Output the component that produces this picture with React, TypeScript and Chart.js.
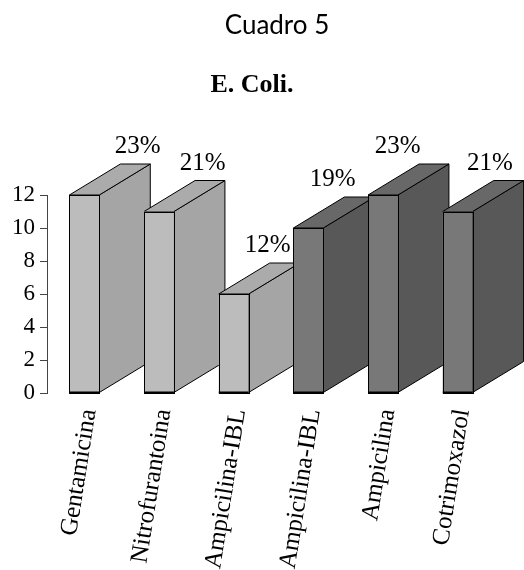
import { useEffect, useRef } from "react";
import { Chart, registerables } from "chart.js";

Chart.register(...registerables);

// Data
const categories = [
  "Gentamicina",
  "Nitrofurantoina",
  "Ampicilina-IBL",
  "Ampicilina-IBL",
  "Ampicilina",
  "Cotrimoxazol",
];
const counts = [12, 11, 6, 10, 12, 11];
const percentLabels = ["23%", "21%", "12%", "19%", "23%", "21%"];
// which shade group each column belongs to (index into PALETTE)
const shadeGroup = [0, 0, 0, 1, 1, 1];
const Y_MIN = 0;
const Y_MAX = 12;
const Y_STEP = 2;

const TITLE = "Cuadro 5";
const SUBTITLE = "E. Coli.";

// Styling
const SERIF = "'Liberation Serif', 'Times New Roman', serif";
const PALETTE = [
  { front: "#bcbcbc", top: "#ababab", side: "#a5a5a5" },
  { front: "#787878", top: "#686868", side: "#585858" },
];
const DEPTH_X = 51;
const DEPTH_Y = 31;
const LABEL_FONT = 25;
const W = 524;
const H = 570;

const barBox = (bar: any) => {
  const { x, y, base, width } = bar.getProps(["x", "y", "base", "width"], true);
  return { x, y, base, l: x - width / 2, r: x + width / 2 };
};

// Draws the receding top and side faces behind each bar's front face,
// then outlines the fronts and writes the percentage above each column.
const depthPlugin = {
  id: "depthFaces",
  beforeDatasetsDraw(chart: any) {
    const ctx = chart.ctx;
    const meta = chart.getDatasetMeta(0);
    ctx.save();
    ctx.lineWidth = 1;
    ctx.strokeStyle = "#000";
    meta.data.forEach((bar: any, i: number) => {
      const { y, base, l, r } = barBox(bar);
      const pal = PALETTE[shadeGroup[i]];
      // side face
      ctx.beginPath();
      ctx.moveTo(r, base);
      ctx.lineTo(r + DEPTH_X, base - DEPTH_Y);
      ctx.lineTo(r + DEPTH_X, y - DEPTH_Y);
      ctx.lineTo(r, y);
      ctx.closePath();
      ctx.fillStyle = pal.side;
      ctx.fill();
      ctx.stroke();
      // top face
      ctx.beginPath();
      ctx.moveTo(l, y);
      ctx.lineTo(l + DEPTH_X, y - DEPTH_Y);
      ctx.lineTo(r + DEPTH_X, y - DEPTH_Y);
      ctx.lineTo(r, y);
      ctx.closePath();
      ctx.fillStyle = pal.top;
      ctx.fill();
      ctx.stroke();
    });
    ctx.restore();
  },
  afterDatasetsDraw(chart: any) {
    const ctx = chart.ctx;
    const meta = chart.getDatasetMeta(0);
    const right = chart.chartArea.right;
    ctx.save();
    // front outlines
    ctx.lineWidth = 1;
    ctx.strokeStyle = "#000";
    meta.data.forEach((bar: any) => {
      const { y, base, l, r } = barBox(bar);
      ctx.strokeRect(Math.round(l) + 0.5, Math.round(y) + 0.5, Math.round(r - l), Math.round(base - y));
      ctx.lineWidth = 2;
      ctx.beginPath();
      ctx.moveTo(l, base);
      ctx.lineTo(r, base);
      ctx.stroke();
      ctx.lineWidth = 1;
    });

    // percentage labels
    ctx.fillStyle = "#000";
    ctx.font = `${LABEL_FONT}px ${SERIF}`;
    ctx.textAlign = "center";
    ctx.textBaseline = "alphabetic";
    meta.data.forEach((bar: any, i: number) => {
      const { x, y } = barBox(bar);
      const baseline = y - DEPTH_Y - 11;
      const half = ctx.measureText(percentLabels[i]).width / 2;
      // labels float above the back edge, drawn toward the far end of the row
      let lx = right + (x - right) * 0.87;
      if (i > 0) {
        // keep clear of the previous column's top face
        const prev = barBox(meta.data[i - 1]);
        const prevBackRight = prev.r + DEPTH_X;
        if (baseline > prev.y - DEPTH_Y && lx - half < prevBackRight) {
          lx = prevBackRight + 18 + half;
        }
      }
      ctx.fillText(percentLabels[i], lx, baseline);
    });
    ctx.restore();
  },
};

// Heading lines above the plot.
const headingPlugin = {
  id: "headings",
  afterDraw(chart: any) {
    const ctx = chart.ctx;
    ctx.save();
    ctx.fillStyle = "#000";
    ctx.textAlign = "center";
    ctx.textBaseline = "alphabetic";
    ctx.font = "26px Lato, 'Open Sans', sans-serif";
    ctx.fillText(TITLE, 277, 34);
    ctx.font = `bold 26px ${SERIF}`;
    ctx.fillText(SUBTITLE, 252, 92);
    ctx.restore();
  },
};

export default function App() {
  const canvasRef = useRef<HTMLCanvasElement | null>(null);

  useEffect(() => {
    const canvas = canvasRef.current;
    if (!canvas) return;
    const chart = new Chart(canvas, {
      type: "bar",
      data: {
        labels: categories,
        datasets: [
          {
            data: counts,
            backgroundColor: shadeGroup.map((g) => PALETTE[g].front),
            borderWidth: 0,
            barPercentage: 0.4,
            categoryPercentage: 1,
            clip: false as any,
          },
        ],
      },
      options: {
        responsive: false,
        animation: false,
        devicePixelRatio: 1,
        layout: { padding: { top: 195, right: 29, left: 0, bottom: 0 } },
        plugins: {
          legend: { display: false },
          title: { display: false },
          tooltip: { enabled: false },
        },
        scales: {
          x: {
            grid: { display: false, drawTicks: false },
            border: { display: false },
            ticks: {
              minRotation: 81,
              maxRotation: 81,
              autoSkip: false,
              padding: 14,
              labelOffset: 5,
              color: "#000",
              font: { family: SERIF, size: 25 },
            },
            afterFit(scale: any) {
              scale.height = 177;
            },
          },
          y: {
            min: Y_MIN,
            max: Y_MAX,
            grid: {
              drawOnChartArea: false,
              drawTicks: true,
              tickLength: 7,
              color: "#444",
            },
            border: { display: true, color: "#444", width: 1 },
            ticks: {
              stepSize: Y_STEP,
              padding: 5,
              color: "#000",
              font: { family: SERIF, size: 23 },
            },
            afterFit(scale: any) {
              scale.width = 47;
            },
          },
        },
      },
      plugins: [depthPlugin, headingPlugin],
    });
    return () => chart.destroy();
  }, []);

  return (
    <div style={{ position: "fixed", left: 0, top: 0, width: W, height: H, background: "#fff" }}>
      <canvas ref={canvasRef} width={W} height={H} style={{ display: "block" }} />
    </div>
  );
}
